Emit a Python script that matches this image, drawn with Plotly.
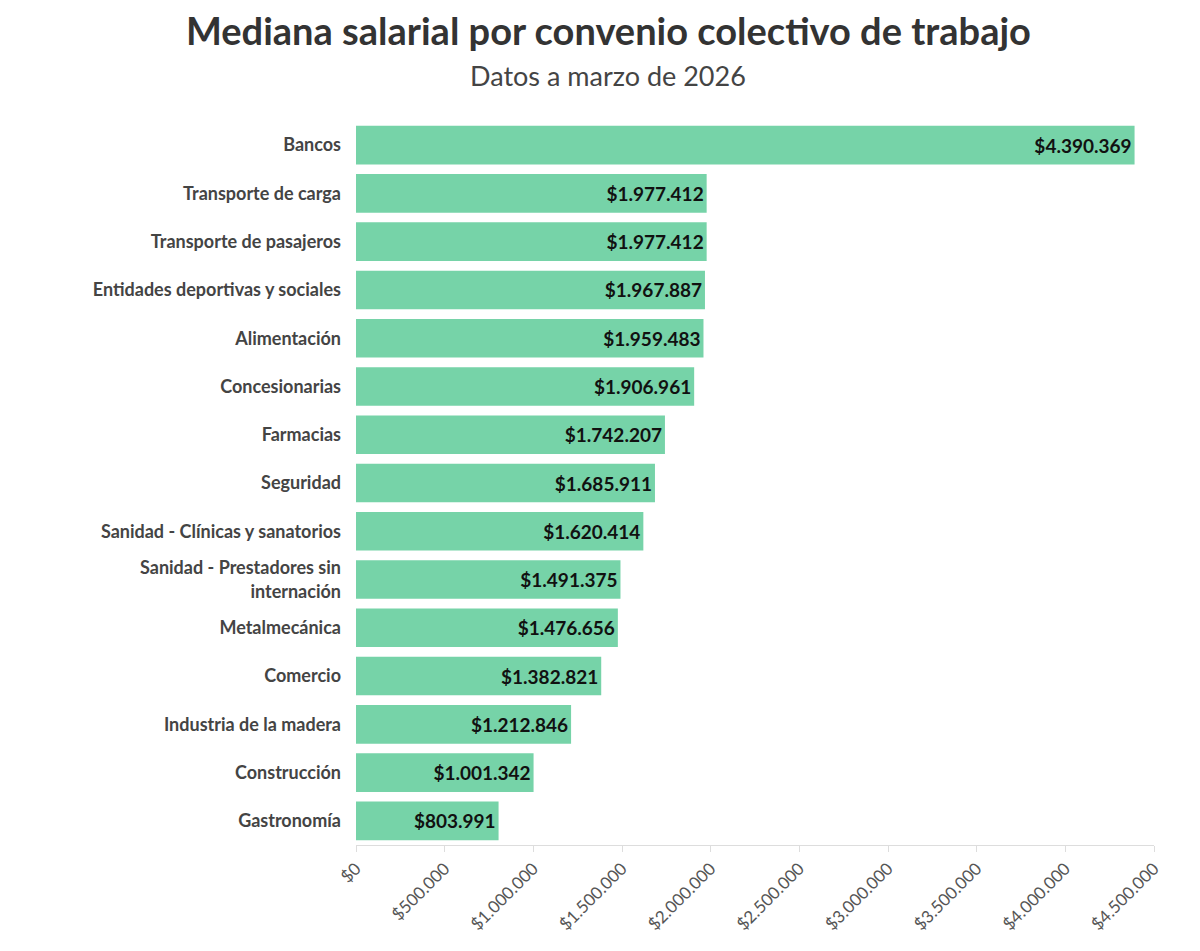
import plotly.graph_objects as go

categories = ["Bancos", "Transporte de carga", "Transporte de pasajeros",
              "Entidades deportivas y sociales", "Alimentación", "Concesionarias",
              "Farmacias", "Seguridad", "Sanidad - Clínicas y sanatorios",
              "Sanidad - Prestadores sin<br>internación", "Metalmecánica", "Comercio",
              "Industria de la madera", "Construcción", "Gastronomía"]
values = [4390369, 1977412, 1977412, 1967887, 1959483, 1906961, 1742207, 1685911,
          1620414, 1491375, 1476656, 1382821, 1212846, 1001342, 803991]
tick_vals = [0, 500000, 1000000, 1500000, 2000000, 2500000, 3000000, 3500000, 4000000, 4500000]
tick_text = ["$0", "$500.000", "$1.000.000", "$1.500.000", "$2.000.000", "$2.500.000",
             "$3.000.000", "$3.500.000", "$4.000.000", "$4.500.000"]

L, R, T, B, W, H = 348, 54, 113, 114, 1200, 951
pw, ph = W - L - R, H - T - B

fig = go.Figure(go.Bar(
    y=["<b>" + c + "</b>" for c in categories], x=values, orientation="h",
    marker=dict(color="#76d3a8", line=dict(width=0)),
    texttemplate="<b>$%{x:,.0f}</b>", textposition="inside", insidetextanchor="end",
    textfont=dict(family="Lato", size=19, color="#111111"),
    cliponaxis=False,
))
fig.update_layout(
    width=W, height=H, separators=",.",
    paper_bgcolor="white", plot_bgcolor="white",
    margin=dict(l=L, r=R, t=T, b=B, autoexpand=False),
    bargap=0.2, showlegend=False,
    font=dict(family="Lato", color="#444444"),
    annotations=[
        dict(text="<b>Mediana salarial por convenio colectivo de trabajo</b>",
             xref="paper", x=(600 - L) / pw, yref="paper", y=1 + (T - 22) / ph,
             xanchor="center", yanchor="middle", showarrow=False,
             font=dict(size=38, color="#333333", family="Lato")),
        dict(text="Datos a marzo de 2026",
             xref="paper", x=(600 - L) / pw, yref="paper", y=1 + (T - 68) / ph,
             xanchor="center", yanchor="middle", showarrow=False,
             font=dict(size=27, color="#444444", family="Lato")),
    ],
)
fig.update_yaxes(autorange="reversed", tickfont=dict(size=18, color="#444444", family="Lato"),
                 ticks="", ticklabelstandoff=14, showgrid=False, automargin=False)
fig.update_xaxes(range=[0, 4500000], tickvals=tick_vals, ticktext=tick_text,
                 tickangle=-45, tickfont=dict(size=17, color="#555555", family="Lato"),
                 showgrid=False, showline=True, linecolor="#dddddd", ticks="outside",
                 ticklen=6, tickcolor="#dddddd", zeroline=False, automargin=False)
fig.write_html("out.html")
